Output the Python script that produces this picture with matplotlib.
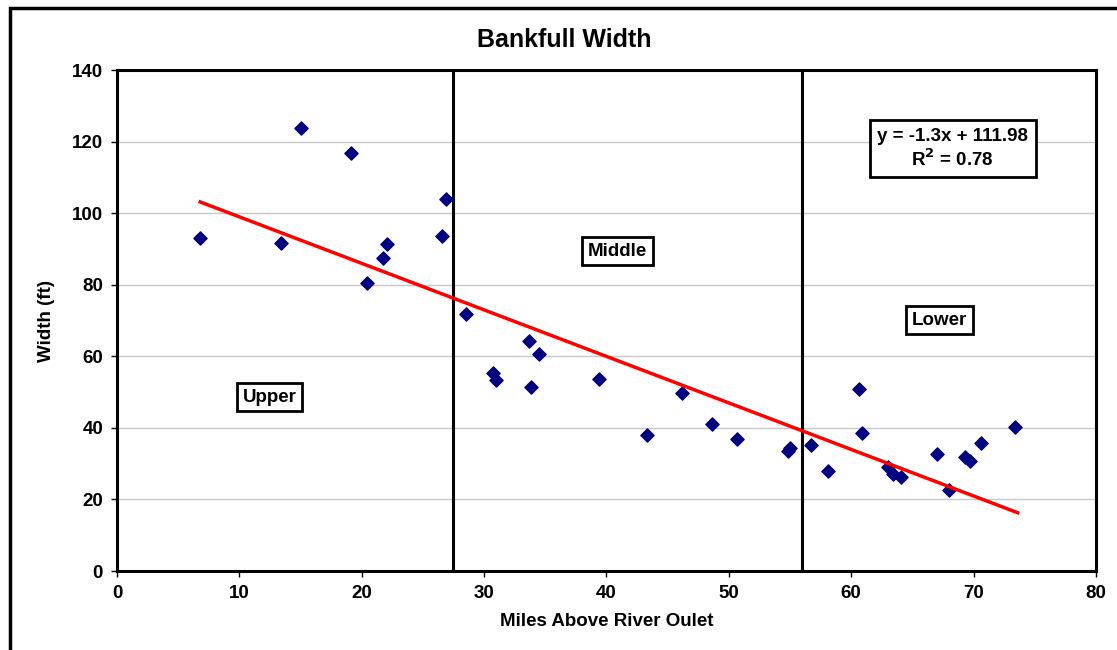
import numpy as np
import matplotlib.pyplot as plt
from matplotlib.patches import Rectangle

plt.rcParams['font.family'] = ['Liberation Sans', 'DejaVu Sans']
plt.rcParams['font.weight'] = 'bold'

# miles above outlet vs bankfull width (ft)
miles = [6.8, 13.4, 15.0, 19.1, 20.4, 21.7, 22.1, 26.6, 26.9, 28.5,
         30.7, 31.0, 33.7, 33.8, 34.5, 39.4, 43.3, 46.2, 48.6, 50.7,
         54.8, 55.0, 56.7, 58.1, 60.6, 60.9, 63.0, 63.4, 64.1, 67.0,
         68.0, 69.3, 69.7, 70.6, 73.4]
width = [93.0, 91.6, 123.7, 116.8, 80.4, 87.4, 91.3, 93.6, 103.9, 71.8,
         55.3, 53.4, 64.2, 51.4, 60.6, 53.6, 38.0, 49.7, 41.1, 36.9,
         33.5, 34.4, 35.2, 27.9, 50.8, 38.5, 29.1, 27.1, 26.3, 32.7,
         22.6, 31.8, 30.7, 35.8, 40.2]

slope, intercept, r2 = -1.3, 111.98, 0.78
reach_breaks = [27.5, 56.0]
reach_names = ['Upper', 'Middle', 'Lower']
reach_label_pos = [(12.5, 48.6), (40.9, 89.4), (67.2, 70.1)]

fig = plt.figure(figsize=(11.17, 6.5), dpi=100)
ax = fig.add_axes([0.1047, 0.1215, 0.8765, 0.7708])

# outer chart frame
fig.patches.append(Rectangle((0.009, -0.05), 1.1, 1.037, transform=fig.transFigure,
                             fill=False, edgecolor='black', linewidth=2.5))

ax.yaxis.grid(True, color='#c8c8c8', linewidth=1)
ax.set_axisbelow(True)

ax.scatter(miles, width, marker='D', s=45, color='#000080', zorder=3)

xf = np.array([min(miles), max(miles) + 0.2])
ax.plot(xf, slope * xf + intercept, color='#ff0000', linewidth=2.5, zorder=4)

for xb in reach_breaks:
    ax.axvline(xb, color='black', linewidth=2.2, zorder=2)

box = dict(boxstyle='square,pad=0.3', facecolor='white', edgecolor='black', linewidth=2)
for name, (lx, ly) in zip(reach_names, reach_label_pos):
    ax.text(lx, ly, name, ha='center', va='center', fontsize=13.5, fontweight='bold',
            bbox=box, zorder=5)

ax.text(68.3, 118, f'y = {slope}x + {intercept}\nR$^2$ = {r2}', ha='center', va='center',
        fontsize=13.5, fontweight='bold', linespacing=1.2,
        bbox=dict(boxstyle='square,pad=0.4', facecolor='white', edgecolor='black',
                  linewidth=2), zorder=5)

ax.set_xlim(0, 80)
ax.set_ylim(0, 140)
ax.set_xticks(range(0, 81, 10))
ax.set_yticks(range(0, 141, 20))
ax.tick_params(labelsize=13.5, length=4, width=1, pad=6)
for lab in ax.get_xticklabels() + ax.get_yticklabels():
    lab.set_fontweight('bold')
for sp in ax.spines.values():
    sp.set_linewidth(2.2)

ax.set_xlabel('Miles Above River Oulet', fontsize=13.5, fontweight='bold', labelpad=8)
ax.set_ylabel('Width (ft)', fontsize=13.5, fontweight='bold', labelpad=12)
fig.text(0.505, 0.938, 'Bankfull Width', ha='center', va='center',
         fontsize=18, fontweight='bold')

fig.savefig('out.png', dpi=100)
